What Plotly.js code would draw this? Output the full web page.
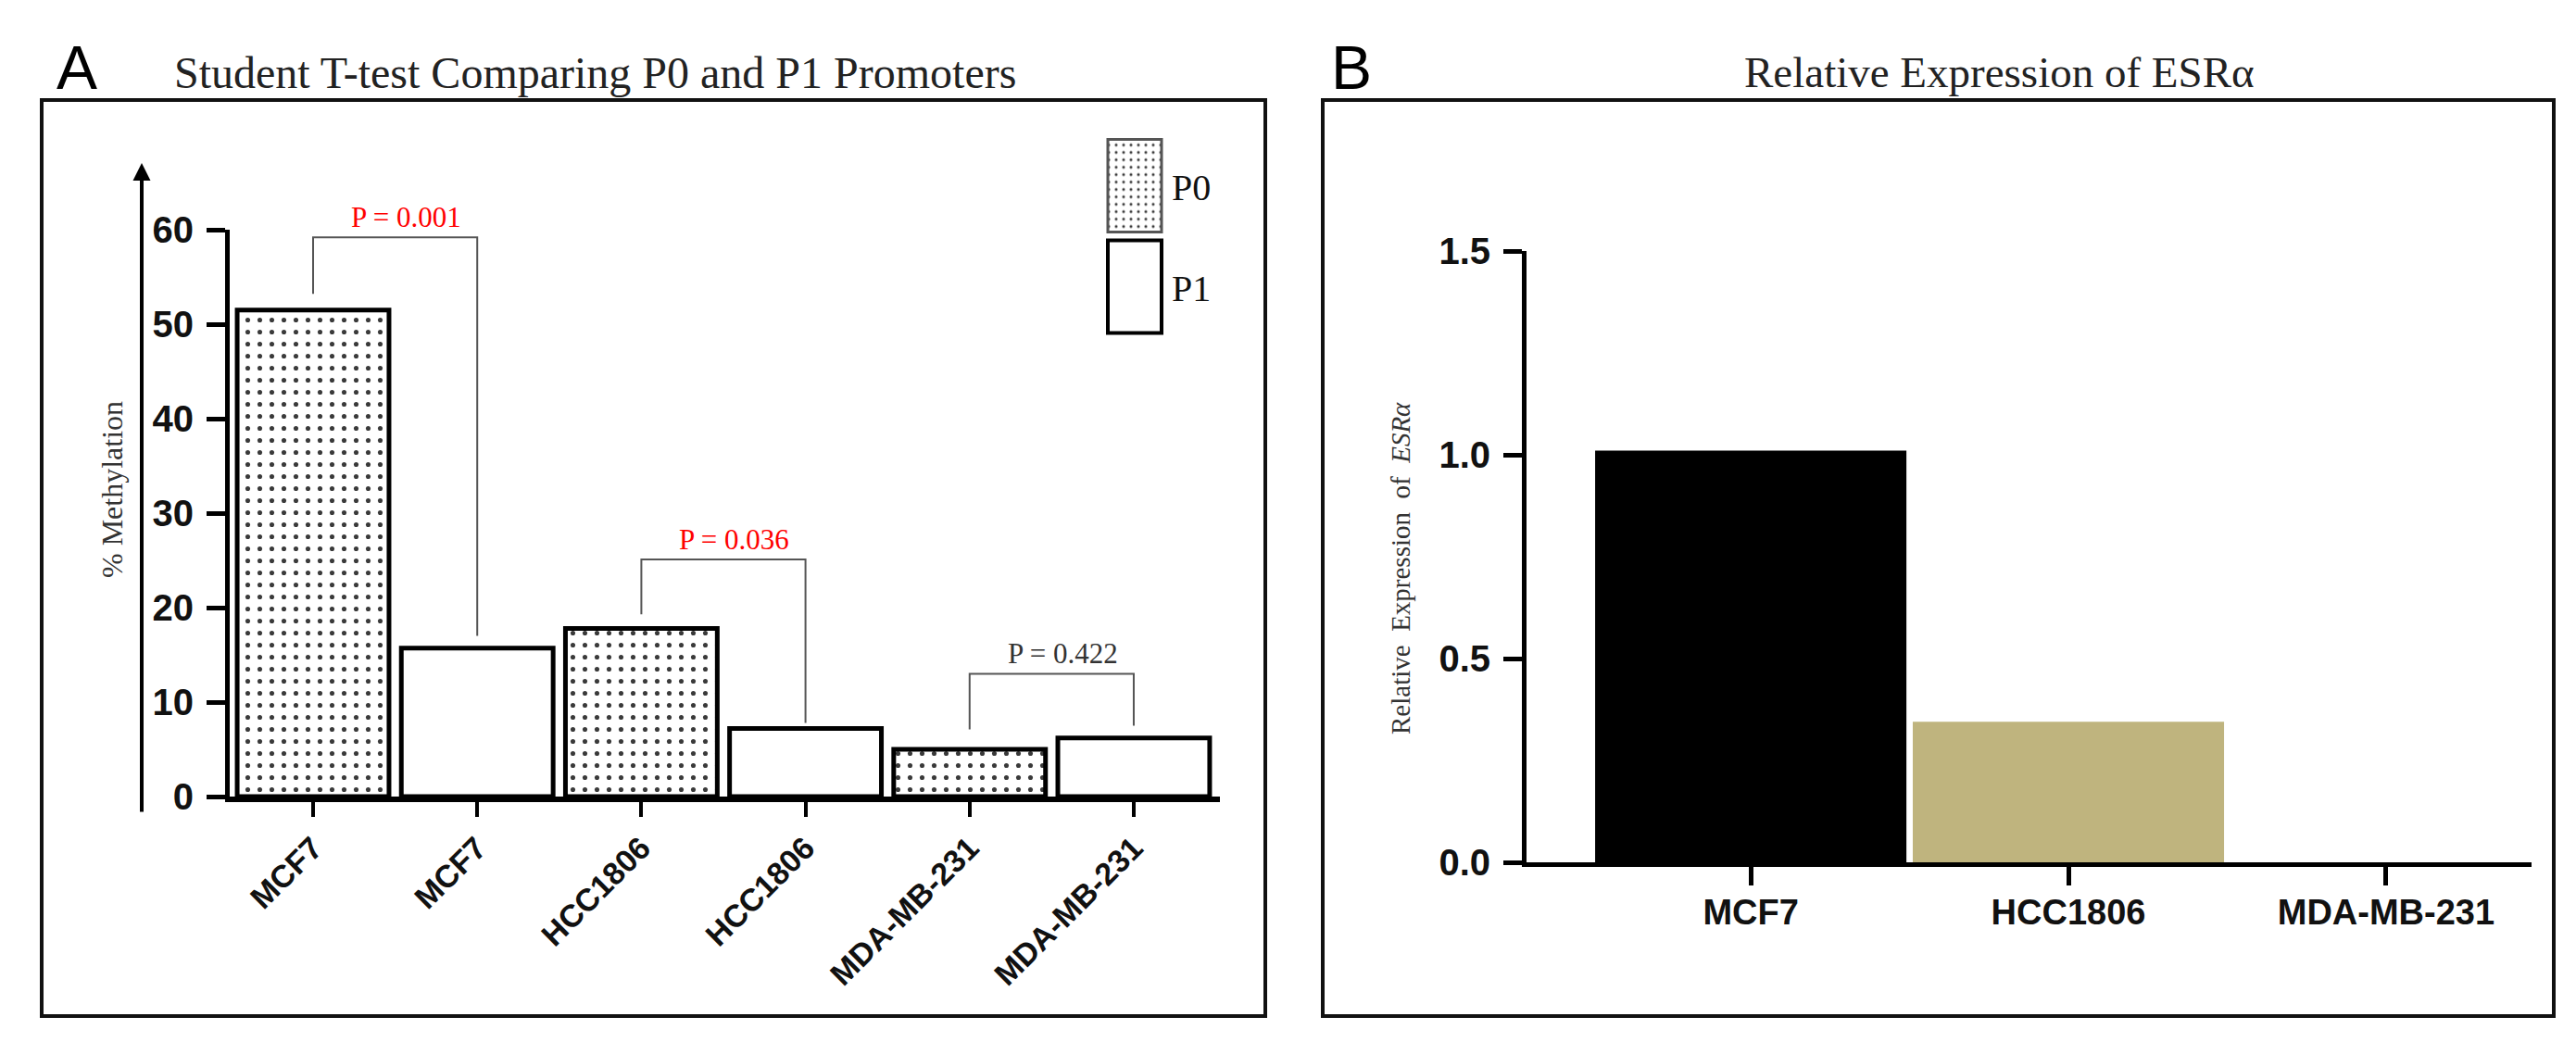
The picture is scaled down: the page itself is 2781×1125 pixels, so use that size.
<!DOCTYPE html>
<html><head><meta charset="utf-8">
<script src="https://cdn.plot.ly/plotly-3.0.1.min.js"></script>
<style>html,body{margin:0;padding:0;background:#fff}#chart{width:2781px;height:1125px}</style>
</head><body><div id="chart"></div>
<script>
const W = 2781, H = 1125;
const px = x => x / W;
const py = y => 1 - y / H;

// ---------- Panel A data ----------
const aLabels = ["MCF7", "MCF7", "HCC1806", "HCC1806", "MDA-MB-231", "MDA-MB-231"];
const aPromoter = ["P0", "P1", "P0", "P1", "P0", "P1"];
const aMethylation = [51.5, 15.7, 17.8, 7.2, 5.0, 6.2];
const aYTicks = [0, 10, 20, 30, 40, 50, 60];
// significance brackets
const brFrom = [0, 2, 4];
const brTo = [1, 3, 5];
const brTop = [59.2, 25.1, 13.0];
const brLeftEnd = [53.2, 19.3, 7.1];
const brRightEnd = [17.0, 7.8, 7.5];
const brLabel = ["P = 0.001", "P = 0.036", "P = 0.422"];
const brColor = ["#ff0000", "#ff0000", "#333333"];

// ---------- Panel B data ----------
const bCells = ["MCF7", "HCC1806", "MDA-MB-231"];
const bExpression = [1.01, 0.345, 0.0];
const bColors = ["#000000", "#bfb47e", "#9e9e9e"];
const bYTicks = [0, 0.5, 1.0, 1.5];

const idx = aLabels.map((_, i) => i);
const iP0 = idx.filter(i => aPromoter[i] === "P0");
const iP1 = idx.filter(i => aPromoter[i] === "P1");

const serif = "Liberation Serif, Times New Roman, serif";
const sans = "Liberation Sans, Arial, sans-serif";

const traces = [
  {
    type: "bar", name: "P0", legendgroup: "P0",
    x: iP0, y: iP0.map(i => aMethylation[i]),
    width: 0.925, xaxis: "x", yaxis: "y",
    marker: {
      color: "#ffffff",
      line: { color: "#000000", width: 5 },
      pattern: { shape: ".", fgcolor: "#3a3a3a", bgcolor: "#ffffff", size: 13, solidity: 0.12 }
    },
    hoverinfo: "skip"
  },
  {
    type: "bar", name: "P1", legendgroup: "P1",
    x: iP1, y: iP1.map(i => aMethylation[i]),
    width: 0.925, xaxis: "x", yaxis: "y",
    marker: { color: "#ffffff", line: { color: "#000000", width: 5 } },
    hoverinfo: "skip"
  },
  {
    type: "bar", name: "ESRα", showlegend: false,
    x: bCells, y: bExpression, width: 0.98,
    xaxis: "x2", yaxis: "y2",
    marker: { color: bColors, line: { width: 0 } },
    hoverinfo: "skip"
  }
];

const shapes = [
  { type: "rect", xref: "paper", yref: "paper", x0: px(45), x1: px(1366), y0: py(1097), y1: py(108),
    line: { color: "#111", width: 4 }, fillcolor: "rgba(0,0,0,0)", layer: "below" },
  { type: "rect", xref: "paper", yref: "paper", x0: px(1428), x1: px(2757), y0: py(1097), y1: py(108),
    line: { color: "#111", width: 4 }, fillcolor: "rgba(0,0,0,0)", layer: "below" }
];
const annotations = [
  { text: "A", xref: "paper", yref: "paper", x: px(83), y: py(73), xanchor: "center", yanchor: "middle",
    showarrow: false, font: { family: sans, size: 66, color: "#000" } },
  { text: "B", xref: "paper", yref: "paper", x: px(1459), y: py(73), xanchor: "center", yanchor: "middle",
    showarrow: false, font: { family: sans, size: 66, color: "#000" } },
  { text: "Student T-test Comparing P0 and P1 Promoters", xref: "paper", yref: "paper",
    x: px(642), y: py(78), xanchor: "center", yanchor: "middle", showarrow: false,
    font: { family: serif, size: 48, color: "#222" } },
  { text: "Relative Expression of ESRα", xref: "paper", yref: "paper",
    x: px(2158), y: py(78), xanchor: "center", yanchor: "middle", showarrow: false,
    font: { family: serif, size: 47, color: "#222" } },
  { text: "% Methylation", xref: "paper", yref: "paper", x: px(121), y: py(528),
    xanchor: "center", yanchor: "middle", textangle: -90, showarrow: false,
    font: { family: serif, size: 32, color: "#333" } },
  { text: "Relative  Expression  of  <i>ESRα</i>", xref: "paper", yref: "paper", x: px(1512), y: py(614),
    xanchor: "center", yanchor: "middle", textangle: -90, showarrow: false,
    font: { family: serif, size: 29, color: "#333" } },
  // y-axis arrow of panel A
  { text: "", xref: "paper", yref: "paper", x: px(153), y: py(176), ax: 0, ay: 702,
    showarrow: true, arrowhead: 2, arrowsize: 0.95, arrowwidth: 4, arrowcolor: "#000" }
];

brFrom.forEach((f, k) => {
  const t = brTo[k];
  shapes.push({
    type: "path", xref: "x", yref: "y",
    path: `M ${f},${brLeftEnd[k]} L ${f},${brTop[k]} L ${t},${brTop[k]} L ${t},${brRightEnd[k]}`,
    line: { color: "#555", width: 2 }, layer: "above"
  });
  annotations.push({
    text: brLabel[k], xref: "x", yref: "y", x: (f + t) / 2, y: brTop[k],
    xanchor: "center", yanchor: "bottom", yshift: 2, xshift: 12, showarrow: false,
    font: { family: serif, size: 31, color: brColor[k] }
  });
});

const tickFontBold = (s) => ({ family: sans, size: s, color: "#111", weight: "bold" });

const layout = {
  width: W, height: H,
  margin: { l: 0, r: 0, t: 0, b: 0, pad: 0 },
  paper_bgcolor: "#fff", plot_bgcolor: "rgba(0,0,0,0)",
  barmode: "overlay",
  showlegend: true,
  legend: {
    x: px(1185), y: py(168), xanchor: "left", yanchor: "top",
    font: { family: serif, size: 40, color: "#111" },
    itemwidth: 70, tracegroupgap: 54, traceorder: "grouped",
    bgcolor: "rgba(0,0,0,0)", borderwidth: 0
  },
  xaxis: {
    domain: [px(248), px(1317)], range: [-0.508, 5.525], anchor: "y",
    tickmode: "array", tickvals: idx, ticktext: aLabels, tickangle: -45,
    showline: true, linewidth: 6, linecolor: "#000",
    ticks: "outside", ticklen: 16, tickwidth: 4, tickcolor: "#000",
    tickfont: tickFontBold(34), showgrid: false, zeroline: false, fixedrange: true
  },
  yaxis: {
    domain: [py(860), py(248)], range: [0, 60], anchor: "x",
    tickmode: "array", tickvals: aYTicks,
    showline: true, linewidth: 5, linecolor: "#000",
    ticks: "outside", ticklen: 20, tickwidth: 5, tickcolor: "#000",
    tickfont: tickFontBold(40), ticklabelstandoff: 6,
    showgrid: false, zeroline: false, fixedrange: true
  },
  xaxis2: {
    domain: [px(1648), px(2733)], range: [-0.706, 2.458], anchor: "y2", type: "category",
    showline: true, linewidth: 5, linecolor: "#000",
    ticks: "outside", ticklen: 20, tickwidth: 5, tickcolor: "#000",
    tickfont: tickFontBold(38), ticklabelstandoff: -4,
    showgrid: false, zeroline: false, fixedrange: true
  },
  yaxis2: {
    domain: [py(931), py(271)], range: [0, 1.5], anchor: "x2",
    tickmode: "array", tickvals: bYTicks, tickformat: ".1f",
    showline: true, linewidth: 5, linecolor: "#000",
    ticks: "outside", ticklen: 20, tickwidth: 5, tickcolor: "#000",
    tickfont: tickFontBold(40), ticklabelstandoff: 6,
    showgrid: false, zeroline: false, fixedrange: true
  },
  shapes: shapes,
  annotations: annotations
};

Plotly.newPlot("chart", traces, layout, { displayModeBar: false, staticPlot: true }).then(() => {
  // enlarge the legend swatches to the tall boxes of the original figure
  const items = document.querySelectorAll(".legend .traces");
  items.forEach((tr, k) => {
    tr.querySelectorAll(".legendpoints path").forEach(p => {
      p.setAttribute("d", "M29,50H-29V-50H29Z");
      if (k === 0) { p.style.strokeWidth = "3px"; p.style.stroke = "#555"; }
      else { p.style.strokeWidth = "4px"; }
    });
  });
  document.querySelectorAll(".legend [clip-path]").forEach(el => el.removeAttribute("clip-path"));
  document.querySelectorAll(".legend").forEach(el => el.style.overflow = "visible");
});
</script>
</body></html>
